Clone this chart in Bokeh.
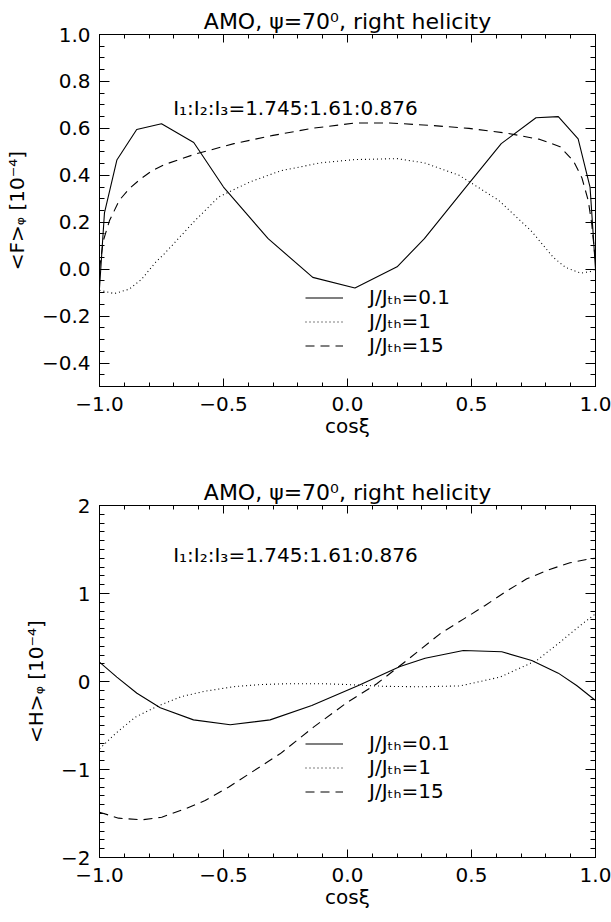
from bokeh.plotting import figure
from bokeh.layouts import column
from bokeh.models import (FixedTicker, LinearAxis, Range1d, Legend, LegendItem,
                          Label, CustomJSTickFormatter)
from bokeh.embed import file_html
from bokeh.resources import INLINE

FONT = "DejaVu Sans"

# ---------------- data ----------------
title_text = "AMO, \u03c8=70\u2070, right helicity"
ratio_text = "I\u2081:I\u2082:I\u2083=1.745:1.61:0.876"
legend_labels = ["J/J\u209c\u2095=0.1", "J/J\u209c\u2095=1", "J/J\u209c\u2095=15"]
x_label = "cos\u03be"
yF_label = "<F>\u1d69 [10\u207b\u2074]"
yH_label = "<H>\u1d69 [10\u207b\u2074]"

# top panel: <F>_phi
xF_01 = [-1.0, -0.98, -0.93, -0.85, -0.75, -0.62, -0.50, -0.32, -0.14, 0.03, 0.20,
         0.31, 0.47, 0.62, 0.76, 0.85, 0.93, 0.978, 1.0]
F_01 = [-0.08, 0.24, 0.465, 0.595, 0.62, 0.54, 0.35, 0.13, -0.035, -0.08, 0.01,
        0.13, 0.34, 0.535, 0.645, 0.65, 0.555, 0.35, 0.0]

xF_1 = [-1.0, -0.94, -0.88, -0.83, -0.775, -0.74, -0.615, -0.52, -0.395, -0.27, -0.11,
        0.03, 0.20, 0.31, 0.45, 0.61, 0.74, 0.83, 0.88, 0.94, 0.98, 1.0]
F_1 = [-0.09, -0.104, -0.085, -0.043, 0.028, 0.064, 0.207, 0.307, 0.371, 0.419, 0.453,
       0.467, 0.471, 0.453, 0.40, 0.293, 0.164, 0.05, 0.007, -0.017, -0.01, 0.0]

xF_15 = [-1.0, -0.985, -0.96, -0.92, -0.876, -0.836, -0.79, -0.74, -0.615, -0.458, -0.3,
         -0.143, 0.03, 0.17, 0.33, 0.49, 0.64, 0.776, 0.857, 0.911, 0.945, 0.971, 0.985, 1.0]
F_15 = [0.0, 0.12, 0.206, 0.294, 0.347, 0.383, 0.418, 0.445, 0.49, 0.535, 0.57,
        0.6, 0.623, 0.623, 0.613, 0.6, 0.58, 0.553, 0.522, 0.461, 0.39, 0.291, 0.191, 0.03]

# bottom panel: <H>_phi
xH_01 = [-1.0, -0.93, -0.849, -0.755, -0.621, -0.473, -0.312, -0.144, 0.044, 0.212, 0.313,
         0.467, 0.622, 0.743, 0.850, 0.924, 1.0]
H_01 = [0.22, 0.05, -0.133, -0.299, -0.436, -0.492, -0.436, -0.273, -0.045, 0.17, 0.265,
        0.352, 0.338, 0.239, 0.095, -0.045, -0.216]

xH_1 = [-1.0, -0.937, -0.856, -0.769, -0.668, -0.574, -0.453, -0.345, -0.251, -0.1, 0.0,
        0.15, 0.3, 0.454, 0.615, 0.763, 0.857, 0.938, 1.0]
H_1 = [-0.765, -0.595, -0.406, -0.284, -0.17, -0.11, -0.057, -0.034, -0.026, -0.025, -0.035,
       -0.055, -0.06, -0.05, 0.05, 0.239, 0.447, 0.636, 0.769]

xH_15 = [-1.0, -0.923, -0.829, -0.749, -0.654, -0.574, -0.48, -0.386, -0.272, -0.137, 0.0,
         0.118, 0.239, 0.373, 0.474, 0.555, 0.635, 0.723, 0.81, 0.897, 0.978, 1.0]
H_15 = [-1.485, -1.553, -1.572, -1.542, -1.447, -1.352, -1.201, -1.03, -0.822, -0.519, -0.235,
        -0.026, 0.239, 0.542, 0.72, 0.864, 1.015, 1.167, 1.269, 1.349, 1.394, 1.40]

# ticks
x_major = [-1.0, -0.5, 0.0, 0.5, 1.0]
x_minor = [round(-1.0 + 0.1 * i, 2) for i in range(21)]
yF_major = [-0.4, -0.2, 0.0, 0.2, 0.4, 0.6, 0.8, 1.0]
yF_minor = [round(-0.5 + 0.05 * i, 3) for i in range(31)]
yH_major = [-2, -1, 0, 1, 2]
yH_minor = [round(-2.0 + 0.1 * i, 2) for i in range(41)]

DASHES = ["solid", "1 3", "9 6"]


def fmt(d):
    return CustomJSTickFormatter(args=dict(d=d), code="""
        const s = Math.abs(tick).toFixed(d);
        return (tick < -1e-9 ? '\u2212' : '') + s;
    """)


def blank():
    return CustomJSTickFormatter(code="return '';")


def make_panel(ylabel, yrange, ymaj, ymin, ydig, series, legend_y, ratio_y, mbb):
    p = figure(frame_width=496, frame_height=352,
               x_range=Range1d(-1.0, 1.0), y_range=Range1d(*yrange),
               output_backend="svg", toolbar_location=None,
               min_border_left=99, min_border_right=16, min_border_top=34,
               min_border_bottom=mbb, background_fill_color="white",
               border_fill_color="white")
    p.grid.visible = False
    p.outline_line_color = "black"
    p.outline_line_width = 1

    p.title.text = title_text
    p.title.align = "center"
    p.title.text_font = FONT
    p.title.text_font_size = "22px"
    p.title.text_font_style = "normal"
    p.title.text_color = "black"
    p.title.standoff = 1

    xt = FixedTicker(ticks=x_major, minor_ticks=x_minor)
    yt = FixedTicker(ticks=ymaj, minor_ticks=ymin)

    xa = p.xaxis[0]
    xa.ticker = xt
    xa.formatter = fmt(1)
    xa.axis_label = x_label
    ya = p.yaxis[0]
    ya.ticker = yt
    ya.formatter = fmt(ydig)
    ya.axis_label = ylabel

    for ax, maj, mnr in ((xa, 8, 4), (ya, 10, 5)):
        ax.major_tick_in = maj
        ax.major_tick_out = 0
        ax.minor_tick_in = mnr
        ax.minor_tick_out = 0
        ax.axis_line_color = "black"
        ax.major_tick_line_color = "black"
        ax.minor_tick_line_color = "black"
        ax.major_label_text_font = FONT
        ax.major_label_text_font_size = "20px"
        ax.major_label_text_color = "black"
        ax.axis_label_text_font = FONT
        ax.axis_label_text_font_size = "20px"
        ax.axis_label_text_font_style = "normal"
        ax.axis_label_text_color = "black"
    xa.major_label_standoff = 10
    xa.axis_label_standoff = 0
    ya.major_label_standoff = 9
    ya.axis_label_standoff = 10

    # box ticks on top and right
    for loc, tk, maj, mnr in (("above", xt, 8, 4), ("right", yt, 10, 5)):
        ax = LinearAxis(ticker=tk, formatter=blank(),
                        major_tick_in=maj, major_tick_out=0,
                        minor_tick_in=mnr, minor_tick_out=0,
                        major_label_standoff=0,
                        major_label_text_font_size="0px",
                        axis_line_color="black")
        p.add_layout(ax, loc)

    items = []
    for (xs, ys), dash, lab in zip(series, DASHES, legend_labels):
        r = p.line(xs, ys, line_color="black", line_width=1.1, line_dash=dash)
        items.append(LegendItem(label=lab, renderers=[r]))

    leg = Legend(items=items, location=(206, legend_y),
                 glyph_width=38, glyph_height=23, label_height=23,
                 label_standoff=26, spacing=0, padding=0, margin=0,
                 border_line_color=None, background_fill_alpha=0,
                 label_text_font=FONT, label_text_font_size="20px",
                 label_text_color="black")
    p.add_layout(leg)

    p.add_layout(Label(x=-0.703, y=ratio_y, text=ratio_text,
                       text_font=FONT, text_font_size="20px",
                       text_baseline="middle", text_align="left",
                       text_color="black"))
    return p


top = make_panel(yF_label, (-0.5, 1.0), yF_major, yF_minor, 1,
                 [(xF_01, F_01), (xF_1, F_1), (xF_15, F_15)],
                 legend_y=29, ratio_y=0.686, mbb=85)
bot = make_panel(yH_label, (-2.0, 2.0), yH_major, yH_minor, 0,
                 [(xH_01, H_01), (xH_1, H_1), (xH_15, H_15)],
                 legend_y=54, ratio_y=1.432, mbb=65)

layout = column(top, bot, spacing=0)
open("out.html", "w").write(file_html(layout, INLINE))
